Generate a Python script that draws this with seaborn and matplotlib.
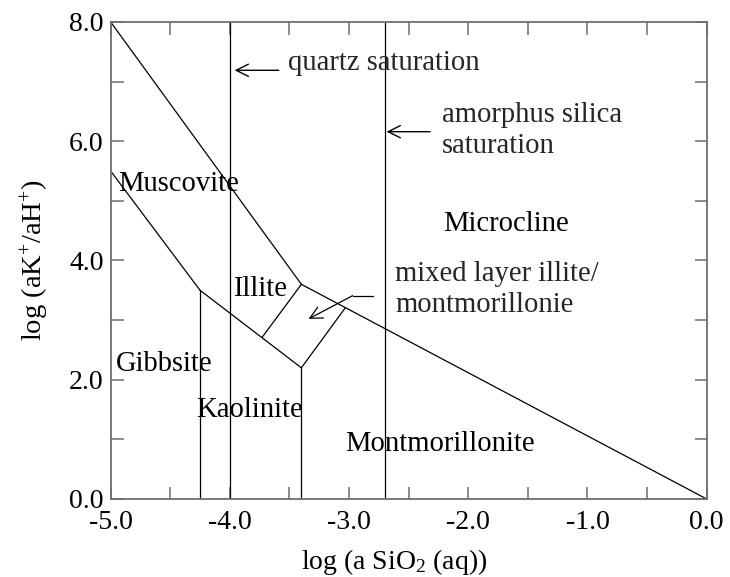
import matplotlib
matplotlib.use("Agg")
import matplotlib.pyplot as plt
import seaborn as sns
import pandas as pd

# Phase boundaries in log(a SiO2) / log(aK+/aH+) space
segment_names = [
    "muscovite_microcline", "illite_microcline", "microcline_montmorillonite",
    "gibbsite_muscovite", "kaolinite_upper", "gibbsite_kaolinite",
    "kaolinite_montmorillonite", "illite_mixed", "mixed_montmorillonite",
    "quartz_saturation", "amorphous_silica_saturation",
]
seg_x0 = [-5.00, -3.40, -3.40, -5.00, -4.25, -4.25, -3.40, -3.73, -3.40, -4.00, -2.70]
seg_y0 = [ 8.00,  3.60,  3.60,  5.50,  3.50,  3.50,  2.20,  2.71,  2.20,  0.00,  0.00]
seg_x1 = [-3.40, -3.40,  0.00, -4.25, -3.40, -4.25, -3.40, -3.40, -3.03, -4.00, -2.70]
seg_y1 = [ 3.60,  3.60,  0.00,  3.50,  2.20,  0.00,  0.00,  3.60,  3.21,  8.00,  8.00]

# Field labels (left edge, baseline)
field_names = ["Muscovite", "Illite", "Gibbsite", "Kaolinite", "Montmorillonite", "Microcline"]
field_x = [-4.94, -3.97, -4.96, -4.28, -3.03, -2.21]
field_y = [5.16, 3.41, 2.15, 1.37, 0.81, 4.50]

x_ticks = [-5.0, -4.0, -3.0, -2.0, -1.0, 0.0]
x_tick_labels = ["-5.0", "-4.0", "-3.0", "-2.0", "-1.0", "0.0"]
y_ticks = [0.0, 2.0, 4.0, 6.0, 8.0]
y_tick_labels = ["0.0", "2.0", "4.0", "6.0", "8.0"]

rows = []
for name, x0, y0, x1, y1 in zip(segment_names, seg_x0, seg_y0, seg_x1, seg_y1):
    rows.append({"segment": name, "order": 0, "x": x0, "y": y0})
    rows.append({"segment": name, "order": 1, "x": x1, "y": y1})
lines = pd.DataFrame(rows)

sns.set_theme(style="white")
plt.rcParams["font.family"] = ["Liberation Serif", "DejaVu Serif"]
plt.rcParams["mathtext.fontset"] = "custom"
plt.rcParams["mathtext.rm"] = "Liberation Serif"
plt.rcParams["mathtext.it"] = "Liberation Serif:italic"
plt.rcParams["axes.unicode_minus"] = False

FS = 20
TFS = 20.6
fig = plt.figure(figsize=(7.30, 5.77), dpi=100)
ax = fig.add_axes([0.1516, 0.1352, 0.8164, 0.8267])

sns.lineplot(data=lines, x="x", y="y", units="segment", estimator=None,
             sort=False, color="black", linewidth=0.9, ax=ax, legend=False)

for name, x, y in zip(field_names, field_x, field_y):
    ax.text(x, y, name, fontsize=TFS, ha="left", va="baseline", color="black")

# Saturation annotations
ax.text(-3.51, 7.20, "quartz saturation", fontsize=TFS, ha="left", va="baseline")
ax.annotate("", xy=(-3.96, 7.19), xytext=(-3.59, 7.19),
            arrowprops=dict(arrowstyle="->", color="black", lw=1.0, mutation_scale=22,
                            shrinkA=0, shrinkB=0))
ax.text(-2.22, 6.33, "amorphus silica", fontsize=TFS, ha="left", va="baseline")
ax.text(-2.22, 5.81, "saturation", fontsize=TFS, ha="left", va="baseline")
ax.annotate("", xy=(-2.685, 6.16), xytext=(-2.32, 6.16),
            arrowprops=dict(arrowstyle="->", color="black", lw=1.0, mutation_scale=22,
                            shrinkA=0, shrinkB=0))

# Mixed-layer label with a bent leader
ax.text(-2.615, 3.65, "mixed layer illite/", fontsize=TFS, ha="left", va="baseline")
ax.text(-2.615, 3.13, "montmorillonie", fontsize=TFS, ha="left", va="baseline")
ax.plot([-2.80, -2.97], [3.41, 3.41], color="black", lw=0.9)
ax.annotate("", xy=(-3.34, 3.02), xytext=(-2.97, 3.41),
            arrowprops=dict(arrowstyle="->", color="black", lw=0.9, mutation_scale=22,
                            shrinkA=0, shrinkB=0))

ax.set_xlim(-5.0, 0.0)
ax.set_ylim(0.0, 8.0)
ax.set_xticks(x_ticks)
ax.set_xticklabels(x_tick_labels)
ax.set_xticks([v + 0.5 for v in x_ticks[:-1]], minor=True)
ax.set_yticks(y_ticks)
ax.set_yticklabels(y_tick_labels)
ax.set_yticks([v + 1.0 for v in y_ticks[:-1]], minor=True)

spine_color = "#6e6e6e"
for s in ax.spines.values():
    s.set_color(spine_color)
    s.set_linewidth(1.3)
ax.tick_params(which="both", direction="in", length=9, width=1.1, color=spine_color,
               top=True, right=True, bottom=True, left=True, labelsize=FS,
               labelcolor="black")
ax.tick_params(axis="x", which="major", pad=8)
ax.tick_params(axis="y", which="major", pad=5)

ax.set_xlabel(r"log (a SiO$_2$ (aq))", fontsize=FS, color="black")
ax.xaxis.set_label_coords(0.476, -0.146, transform=ax.transAxes)
ax.xaxis.label.set_va("baseline")
ax.set_ylabel(r"log (aK$^{+}$/aH$^{+}$)", fontsize=20.5, labelpad=12, color="black")

fig.savefig("out.png", dpi=100, facecolor="white")
